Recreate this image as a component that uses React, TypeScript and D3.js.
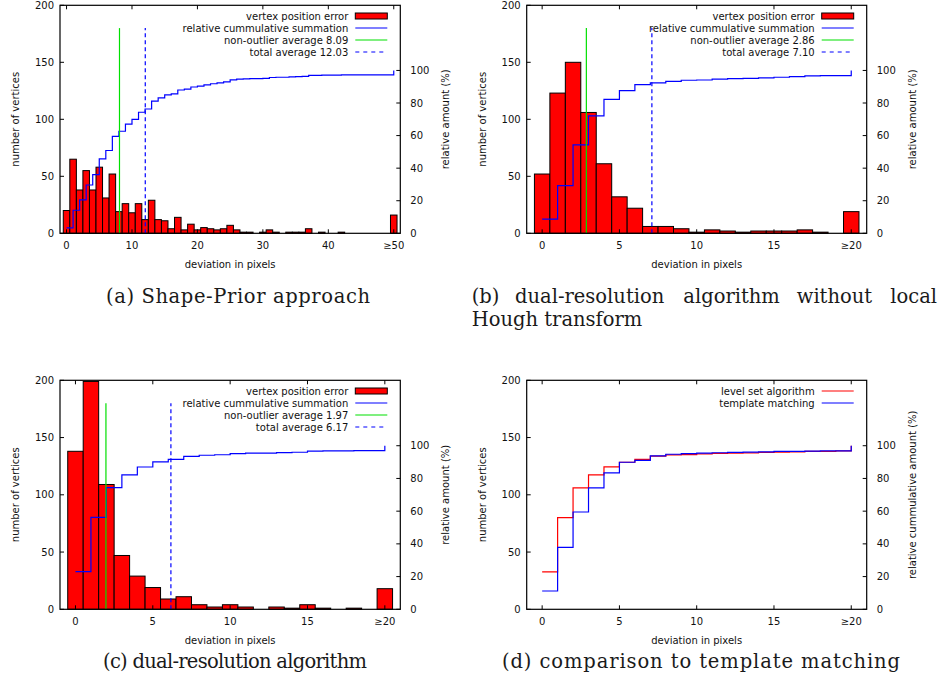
import * as d3 from "d3";

// histogram counts per deviation bin (last bin = "≥N")
const countsA = [
  20, 65, 38, 55, 38, 58, 31, 52, 19, 26, 18, 26, 12, 29, 12, 11, 4, 14, 3, 8, 3, 5, 4, 3, 4,
  7, 3, 1, 1, 0, 1, 3, 1, 0, 1, 1, 1, 4, 0, 1, 0, 0, 1, 0, 0, 0, 0, 0, 0, 0, 16,
];
const countsB = [52, 123, 150, 106, 61, 32, 22, 6, 6, 4, 1, 3, 2, 1, 2, 2, 2, 3, 1, 0, 19];
const countsC = [138, 199, 109, 47, 29, 19, 9, 11, 4, 2, 4, 2, 0, 2, 1, 4, 1, 0, 1, 0, 18];

// cumulative amount (%) for panel d
const levelSetCum = [
  22.9, 56, 74.2, 82.2, 87.1, 89.9, 91.6, 93.6, 94.4, 94.6, 95.0, 95.3, 95.5, 95.6, 95.9, 96.1,
  96.3, 96.5, 96.6, 96.8, 100,
];
const templateCum = [
  11.2, 37.8, 59.5, 74.2, 83.4, 89.9, 91.0, 93.8, 94.8, 95.2, 95.5, 95.7, 95.9, 96.1, 96.3, 96.5,
  96.6, 96.7, 96.8, 96.9, 100,
];

const averagesA = [8.09, 12.03];
const averagesB = [2.86, 7.1];
const averagesC = [1.97, 6.17];

const ticksFifty = [0, 10, 20, 30, 40, 50];
const labelsFifty = ["0", "10", "20", "30", "40", "≥50"];
const ticksTwenty = [0, 5, 10, 15, 20];
const labelsTwenty = ["0", "5", "10", "15", "≥20"];
const leftTicks = [0, 50, 100, 150, 200];
const rightTicks = [0, 20, 40, 60, 80, 100];

const SANS = "'DejaVu Sans', sans-serif";
const SERIF = "'DejaVu Serif', serif";
const BLUE = "#0000ff";
const GREEN = "#00e000";
const RED = "#ff0000";

type Step = { values: number[]; color: string };
type VLine = { at: number; color: string; dashed?: boolean };
type LegendItem = { label: string; kind: "box" | "line" | "dash"; color: string };

type PanelProps = {
  left: number;
  top: number;
  right: number;
  bottom: number;
  xMax: number;
  xTicks: number[];
  xTickLabels: string[];
  counts?: number[];
  steps: Step[];
  vlines?: VLine[];
  legend: LegendItem[];
  rightTitle: string;
};

function toPercent(counts: number[]) {
  const total = d3.sum(counts);
  return Array.from(d3.cumsum(counts), (v) => (v / total) * 100);
}

function Panel(p: PanelProps) {
  const x = d3.scaleLinear().domain([-1, p.xMax + 1]).range([p.left, p.right]);
  const y = d3.scaleLinear().domain([0, 200]).range([p.bottom, p.top]);
  const y2 = d3.scaleLinear().domain([0, 140]).range([p.bottom, p.top]);
  const step = d3
    .line<number>()
    .curve(d3.curveStepAfter)
    .x((_, i) => x(i))
    .y((d) => y2(d));
  const tick = 4;
  const midX = (p.left + p.right) / 2;
  const midY = (p.top + p.bottom) / 2;

  return (
    <g>
      {p.counts?.map((c, i) =>
        c > 0 ? (
          <rect
            key={i}
            x={x(i - 0.5)}
            y={y(Math.min(c, 200))}
            width={x(i + 0.5) - x(i - 0.5)}
            height={y(0) - y(Math.min(c, 200))}
            fill={RED}
            stroke="#000"
            strokeWidth={1}
          />
        ) : null
      )}
      {p.steps.map((s, i) => (
        <path key={i} d={step(s.values) ?? ""} fill="none" stroke={s.color} strokeWidth={1.2} />
      ))}
      {p.vlines?.map((v, i) => (
        <line
          key={i}
          x1={x(v.at)}
          x2={x(v.at)}
          y1={y(0)}
          y2={y(180)}
          stroke={v.color}
          strokeWidth={1.2}
          strokeDasharray={v.dashed ? "4,3" : undefined}
        />
      ))}
      <rect
        x={p.left}
        y={p.top}
        width={p.right - p.left}
        height={p.bottom - p.top}
        fill="none"
        stroke="#000"
        strokeWidth={1.2}
      />
      {leftTicks.map((t) => (
        <g key={`l${t}`}>
          <line x1={p.left} x2={p.left + tick} y1={y(t)} y2={y(t)} stroke="#000" />
          <text x={p.left - 6} y={y(t)} dy="0.36em" textAnchor="end" fontSize={10} fontFamily={SANS} fill="#111">
            {t}
          </text>
        </g>
      ))}
      {rightTicks.map((t) => (
        <g key={`r${t}`}>
          <line x1={p.right} x2={p.right - tick} y1={y2(t)} y2={y2(t)} stroke="#000" />
          <text x={p.right + 10} y={y2(t)} dy="0.36em" textAnchor="start" fontSize={10} fontFamily={SANS} fill="#111">
            {t}
          </text>
        </g>
      ))}
      {p.xTicks.map((t, i) => (
        <g key={`x${t}`}>
          <line x1={x(t)} x2={x(t)} y1={p.bottom} y2={p.bottom - tick} stroke="#000" />
          <line x1={x(t)} x2={x(t)} y1={p.top} y2={p.top + tick} stroke="#000" />
          <text x={x(t)} y={p.bottom + 16} textAnchor="middle" fontSize={10} fontFamily={SANS} fill="#111">
            {p.xTickLabels[i]}
          </text>
        </g>
      ))}
      <text x={midX} y={p.bottom + 34.5} textAnchor="middle" fontSize={10} fontFamily={SANS} fill="#111">
        deviation in pixels
      </text>
      <text
        transform={`translate(${p.left - 44.5},${midY}) rotate(-90)`}
        dy="0.36em"
        textAnchor="middle"
        fontSize={10}
        fontFamily={SANS}
        fill="#111"
      >
        number of vertices
      </text>
      <text
        transform={`translate(${p.right + 45.5},${midY}) rotate(-90)`}
        dy="0.36em"
        textAnchor="middle"
        fontSize={10}
        fontFamily={SANS}
        fill="#111"
      >
        {p.rightTitle}
      </text>
      {p.legend.map((item, i) => {
        const cy = p.top + 10.7 + i * 12;
        const x1 = p.right - 45;
        const x2 = p.right - 13;
        return (
          <g key={item.label}>
            <text x={p.right - 52} y={cy} dy="0.36em" textAnchor="end" fontSize={10} fontFamily={SANS} fill="#111">
              {item.label}
            </text>
            {item.kind === "box" ? (
              <rect x={x1} y={cy - 3} width={x2 - x1} height={6} fill={item.color} stroke="#000" />
            ) : (
              <line
                x1={x1}
                x2={x2}
                y1={cy}
                y2={cy}
                stroke={item.color}
                strokeWidth={1.2}
                strokeDasharray={item.kind === "dash" ? "4,4" : undefined}
              />
            )}
          </g>
        );
      })}
    </g>
  );
}

function histLegend(avgs: number[]): LegendItem[] {
  return [
    { label: "vertex position error", kind: "box", color: RED },
    { label: "relative cummulative summation", kind: "line", color: BLUE },
    { label: `non-outlier average ${avgs[0].toFixed(2)}`, kind: "line", color: GREEN },
    { label: `total average ${avgs[1].toFixed(2)}`, kind: "dash", color: BLUE },
  ];
}

function histVLines(avgs: number[]): VLine[] {
  return [
    { at: avgs[0], color: GREEN },
    { at: avgs[1], color: BLUE, dashed: true },
  ];
}

export default function App() {
  const cap = { fontSize: 19.5, fontFamily: SERIF, fill: "#1a1a1a" };
  return (
    <svg
      width={940}
      height={688}
      viewBox="0 0 940 688"
      style={{ position: "absolute", left: 0, top: 0, background: "#fff" }}
    >
      <rect width={940} height={688} fill="#fff" />
      <Panel
        left={60}
        top={5.3}
        right={400.3}
        bottom={233.3}
        xMax={50}
        xTicks={ticksFifty}
        xTickLabels={labelsFifty}
        counts={countsA}
        steps={[{ values: toPercent(countsA), color: BLUE }]}
        vlines={histVLines(averagesA)}
        legend={histLegend(averagesA)}
        rightTitle="relative amount (%)"
      />
      <Panel
        left={526.7}
        top={5.3}
        right={866.7}
        bottom={233.3}
        xMax={20}
        xTicks={ticksTwenty}
        xTickLabels={labelsTwenty}
        counts={countsB}
        steps={[{ values: toPercent(countsB), color: BLUE }]}
        vlines={histVLines(averagesB)}
        legend={histLegend(averagesB)}
        rightTitle="relative amount (%)"
      />
      <Panel
        left={60}
        top={380.3}
        right={400.3}
        bottom={609.3}
        xMax={20}
        xTicks={ticksTwenty}
        xTickLabels={labelsTwenty}
        counts={countsC}
        steps={[{ values: toPercent(countsC), color: BLUE }]}
        vlines={histVLines(averagesC)}
        legend={histLegend(averagesC)}
        rightTitle="relative amount (%)"
      />
      <Panel
        left={526.7}
        top={380.3}
        right={866.7}
        bottom={609.3}
        xMax={20}
        xTicks={ticksTwenty}
        xTickLabels={labelsTwenty}
        steps={[
          { values: levelSetCum, color: RED },
          { values: templateCum, color: BLUE },
        ]}
        legend={[
          { label: "level set algorithm", kind: "line", color: RED },
          { label: "template matching", kind: "line", color: BLUE },
        ]}
        rightTitle="relative cummulative amount (%)"
      />

      <text x={106} y={302.5} textLength={264} lengthAdjust="spacing" {...cap}>
        (a) Shape-Prior approach
      </text>
      <text x={471.7} y={302.5} {...cap}>(b)</text>
      <text x={515} y={302.5} {...cap}>dual-resolution</text>
      <text x={683.3} y={302.5} {...cap}>algorithm</text>
      <text x={796.7} y={302.5} {...cap}>without</text>
      <text x={937} y={302.5} textAnchor="end" {...cap}>local</text>
      <text x={471.7} y={326} {...cap}>Hough transform</text>
      <text x={103} y={668} textLength={264} lengthAdjust="spacing" {...cap}>
        (c) dual-resolution algorithm
      </text>
      <text x={502} y={668} textLength={398} lengthAdjust="spacing" {...cap}>
        (d) comparison to template matching
      </text>
    </svg>
  );
}
